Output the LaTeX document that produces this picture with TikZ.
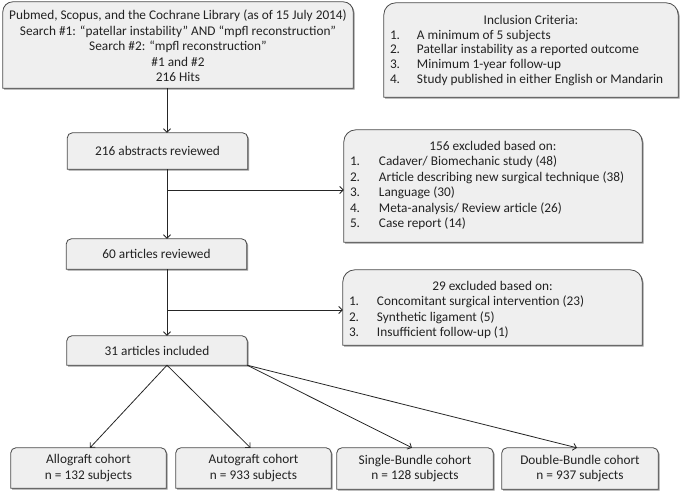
\documentclass[tikz,border=0pt]{standalone}
\usepackage{fontspec}
\setmainfont{Carlito}
\usepackage{array}
\usetikzlibrary{arrows.meta}
\definecolor{boxfill}{HTML}{EFEFEF}
\definecolor{boxline}{HTML}{4A4A4A}
\definecolor{shadowc}{HTML}{9A9A9A}
\definecolor{txt}{HTML}{222222}
\newcommand\tbshape[4]{%
 \path[#1] ([shift={#4}]#2.south west) -- ([shift={#4},yshift=-#3]#2.north west)
   arc[start angle=180,end angle=90,radius=#3] -- ([shift={#4},xshift=-#3]#2.north east)
   arc[start angle=90,end angle=0,radius=#3] -- ([shift={#4}]#2.south east) -- cycle;}
\newcommand\tbox[2]{%
 \tbshape{fill=shadowc}{#1}{#2}{(1.4pt,-1.4pt)}%
 \tbshape{fill=boxfill,draw=boxline,line width=0.8pt}{#1}{#2}{(0pt,0pt)}}
\begin{document}
\begin{tikzpicture}[x=1pt,y=1pt,
  box/.style={inner sep=0pt, text=txt, font=\fontsize{13.3}{15.5}\selectfont, align=center},
  arr/.style={draw=black!85, line width=0.8pt, -{Straight Barb[length=3.5pt,width=7pt]}}]
\useasboundingbox (0,0) rectangle (685,-493);
% nodes (text only; outlines drawn later)
\node[box, minimum width=350pt, minimum height=86pt] (src) at (178,-45) {};
\node[box, minimum width=294pt, minimum height=94pt] (incl) at (531,-50) {};
\node[box, minimum width=180pt, minimum height=36pt] (abs) at (157.5,-151) {};
\node[box, minimum width=298pt, minimum height=112pt] (exa) at (493,-186) {};
\node[box, minimum width=180pt, minimum height=30pt] (art) at (156.5,-254) {};
\node[box, minimum width=299pt, minimum height=75pt] (exb) at (492.5,-307.5) {};
\node[box, minimum width=180pt, minimum height=29pt] (inc) at (157,-350.5) {};
\node[box, minimum width=155pt, minimum height=40pt] (allo) at (88.5,-468) {};
\node[box, minimum width=155pt, minimum height=40pt] (auto) at (253.5,-468) {};
\node[box, minimum width=156pt, minimum height=41pt] (single) at (415,-468.5) {};
\node[box, minimum width=156pt, minimum height=41pt] (double) at (580,-468.5) {};
% outlines
\tbox{src}{10pt}
\tbox{incl}{12pt}
\tbox{abs}{5pt}
\tbox{exa}{12pt}
\tbox{art}{5pt}
\tbox{exb}{12pt}
\tbox{inc}{5pt}
\tbox{allo}{5pt}
\tbox{auto}{5pt}
\tbox{single}{5pt}
\tbox{double}{5pt}
% texts
\node[box] at ([yshift=-1pt]src.center) {Pubmed, Scopus, and the Cochrane Library (as of 15 July 2014)\\
 Search \#1: “patellar instability” AND “mpfl reconstruction”\\
 Search \#2: “mpfl reconstruction”\\ \#1 and \#2\\ 216 Hits};
\node[box, font=\fontsize{13.3}{14.6}\selectfont] at ([yshift=-1pt]incl.center) {\begin{tabular}{@{}p{27pt}@{}p{255pt}@{}}
 \multicolumn{2}{@{}c@{}}{Inclusion Criteria:}\\
 1. & A minimum of 5 subjects\\
 2. & Patellar instability as a reported outcome\\
 3. & Minimum 1-year follow-up\\
 4. & Study published in either English or Mandarin
 \end{tabular}};
\node[box] at (exa) {\begin{tabular}{@{}p{29pt}@{}p{257pt}@{}}
 \multicolumn{2}{@{}c@{}}{156 excluded based on:}\\
 1. & Cadaver/ Biomechanic study (48)\\
 2. & Article describing new surgical technique (38)\\
 3. & Language (30)\\
 4. & Meta-analysis/ Review article (26)\\
 5. & Case report (14)
 \end{tabular}};
\node[box] at ([yshift=-3pt]exb.center) {\begin{tabular}{@{}p{28pt}@{}p{259pt}@{}}
 \multicolumn{2}{@{}c@{}}{29 excluded based on:}\\
 1. & Concomitant surgical intervention (23)\\
 2. & Synthetic ligament (5)\\
 3. & Insufficient follow-up (1)
 \end{tabular}};
\node[box] at (abs) {216 abstracts reviewed};
\node[box] at (art) {60 articles reviewed};
\node[box] at (inc) {31 articles included};
\node[box] at (allo) {Allograft cohort\\ n = 132 subjects};
\node[box] at (auto) {Autograft cohort\\ n = 933 subjects};
\node[box] at (single) {Single-Bundle cohort\\ n = 128 subjects};
\node[box] at (double) {Double-Bundle cohort\\ n = 937 subjects};
% connectors
\coordinate (sp) at (167,0);
\coordinate (b1) at (167,-190);
\coordinate (b2) at (167,-310);
\draw[arr] (src.south -| sp) -- (abs.north -| sp);
\draw[arr] (abs.south -| sp) -- (art.north -| sp);
\draw[arr] (b1) -- (b1 -| exa.west);
\draw[arr] (art.south -| sp) -- (inc.north -| sp);
\draw[arr] (b2) -- (b2 -| exb.west);
\draw[arr] (inc.south -| sp) -- ([xshift=1.5pt]allo.north);
\draw[arr] (inc.south -| sp) -- ([xshift=-3pt]auto.north);
\draw[arr] (inc.south east) -- ([xshift=-3pt]single.north);
\draw[arr] (inc.south east) -- ([xshift=-3pt]double.north);
\end{tikzpicture}
\end{document}
